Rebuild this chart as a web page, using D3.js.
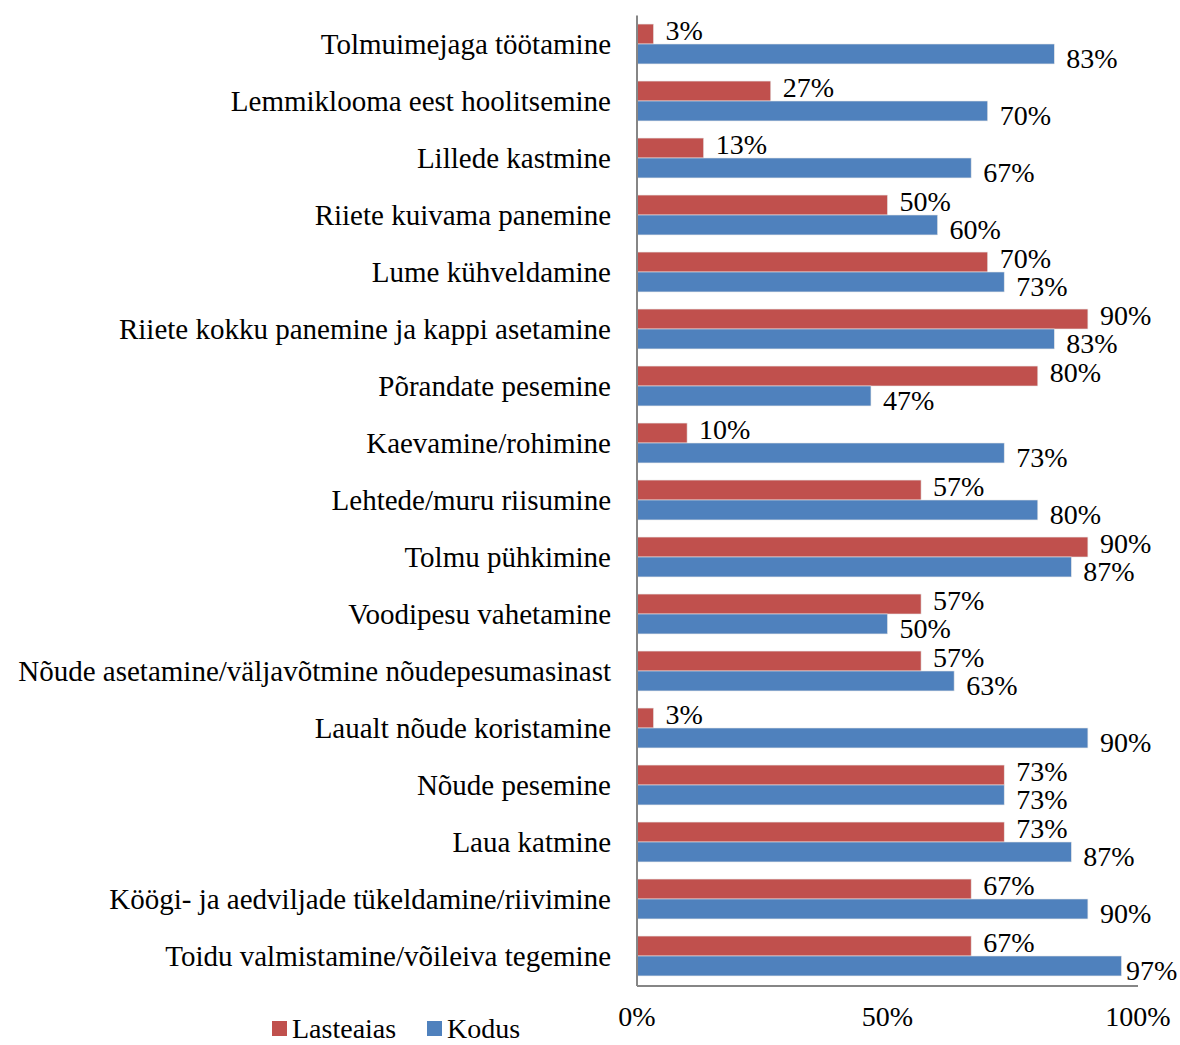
<!DOCTYPE html>
<meta charset="utf-8">
<style>
body { margin: 0; background: #fff; }
text { font-family: "Liberation Serif", "Times New Roman", serif; fill: #000; }
</style>
<body>
<svg width="1180" height="1045"></svg>
<script src="https://d3js.org/d3.v7.min.js"></script>
<script>
// categories top to bottom
var categories = [
  "Tolmuimejaga töötamine",
  "Lemmiklooma eest hoolitsemine",
  "Lillede kastmine",
  "Riiete kuivama panemine",
  "Lume kühveldamine",
  "Riiete kokku panemine ja kappi asetamine",
  "Põrandate pesemine",
  "Kaevamine/rohimine",
  "Lehtede/muru riisumine",
  "Tolmu pühkimine",
  "Voodipesu vahetamine",
  "Nõude asetamine/väljavõtmine nõudepesumasinast",
  "Laualt nõude koristamine",
  "Nõude pesemine",
  "Laua katmine",
  "Köögi- ja aedviljade tükeldamine/riivimine",
  "Toidu valmistamine/võileiva tegemine"
];
var lasteaias = [3.3, 26.7, 13.3, 50, 70, 90, 80, 10, 56.7, 90, 56.7, 56.7, 3.3, 73.3, 73.3, 66.7, 66.7];
var kodus = [83.3, 70, 66.7, 60, 73.3, 83.3, 46.7, 73.3, 80, 86.7, 50, 63.3, 90, 73.3, 86.7, 90, 96.7];
var seriesNames = ["Lasteaias", "Kodus"];
var seriesColors = ["#C0504D", "#4F81BD"];
var tickValues = [0, 50, 100];

var svg = d3.select("svg");
var x = d3.scaleLinear().domain([0, 100]).range([637, 1138]);
var y = d3.scaleBand().domain(categories).range([15.5, 984.5]).paddingInner(0.3).paddingOuter(0.15);
var ySub = d3.scaleBand().domain(seriesNames).range([0, y.bandwidth()]);

var rows = categories.map(function(c, i) {
  return {cat: c, vals: [{s: seriesNames[0], v: lasteaias[i]}, {s: seriesNames[1], v: kodus[i]}]};
});

var g = svg.selectAll(".row").data(rows).enter().append("g")
  .attr("class", "row")
  .attr("transform", function(d) { return "translate(0," + y(d.cat) + ")"; });

g.selectAll("rect").data(function(d) { return d.vals; }).enter().append("rect")
  .attr("x", x(0))
  .attr("y", function(d) { return ySub(d.s); })
  .attr("width", function(d) { return x(d.v) - x(0); })
  .attr("height", ySub.bandwidth())
  .attr("fill", function(d, i) { return seriesColors[i]; })
  .attr("stroke", "#e6e6e6")
  .attr("stroke-width", 0.6);

g.selectAll(".val").data(function(d) { return d.vals; }).enter().append("text")
  .attr("class", "val")
  .attr("x", function(d) { return Math.min(x(d.v) + 12, 1126); })
  .attr("y", function(d, i) { return ySub(d.s) + ySub.bandwidth() / 2 + (i === 0 ? -4 : 4); })
  .attr("dy", "0.35em")
  .style("font-size", "28px")
  .text(function(d) { return Math.round(d.v) + "%"; });

// category labels
svg.selectAll(".cat").data(categories).enter().append("text")
  .attr("class", "cat")
  .attr("x", 611)
  .attr("y", function(d) { return y(d) + y.bandwidth() / 2; })
  .attr("dy", "0.35em")
  .attr("text-anchor", "end")
  .style("font-size", "29px")
  .text(function(d) { return d; });

// axis lines
svg.append("line")
  .attr("x1", x(0)).attr("x2", x(0))
  .attr("y1", 15.5).attr("y2", 986)
  .attr("stroke", "#868686").attr("stroke-width", 2);
svg.append("line")
  .attr("x1", x(0)).attr("x2", x(100))
  .attr("y1", 986).attr("y2", 986)
  .attr("stroke", "#868686").attr("stroke-width", 2);

svg.selectAll(".tick").data(tickValues).enter().append("text")
  .attr("class", "tick")
  .attr("x", function(d) { return x(d); })
  .attr("y", 1016)
  .attr("dy", "0.35em")
  .attr("text-anchor", "middle")
  .style("font-size", "28px")
  .text(function(d) { return d + "%"; });

// legend
var leg = svg.selectAll(".leg").data(seriesNames).enter().append("g")
  .attr("class", "leg")
  .attr("transform", function(d, i) { return "translate(" + [272, 427][i] + ",1021)"; });
leg.append("rect")
  .attr("width", 15).attr("height", 15)
  .attr("fill", function(d, i) { return seriesColors[i]; });
leg.append("text")
  .attr("x", 20)
  .attr("y", 7)
  .attr("dy", "0.35em")
  .style("font-size", "28px")
  .text(function(d) { return d; });
</script>
</body>
